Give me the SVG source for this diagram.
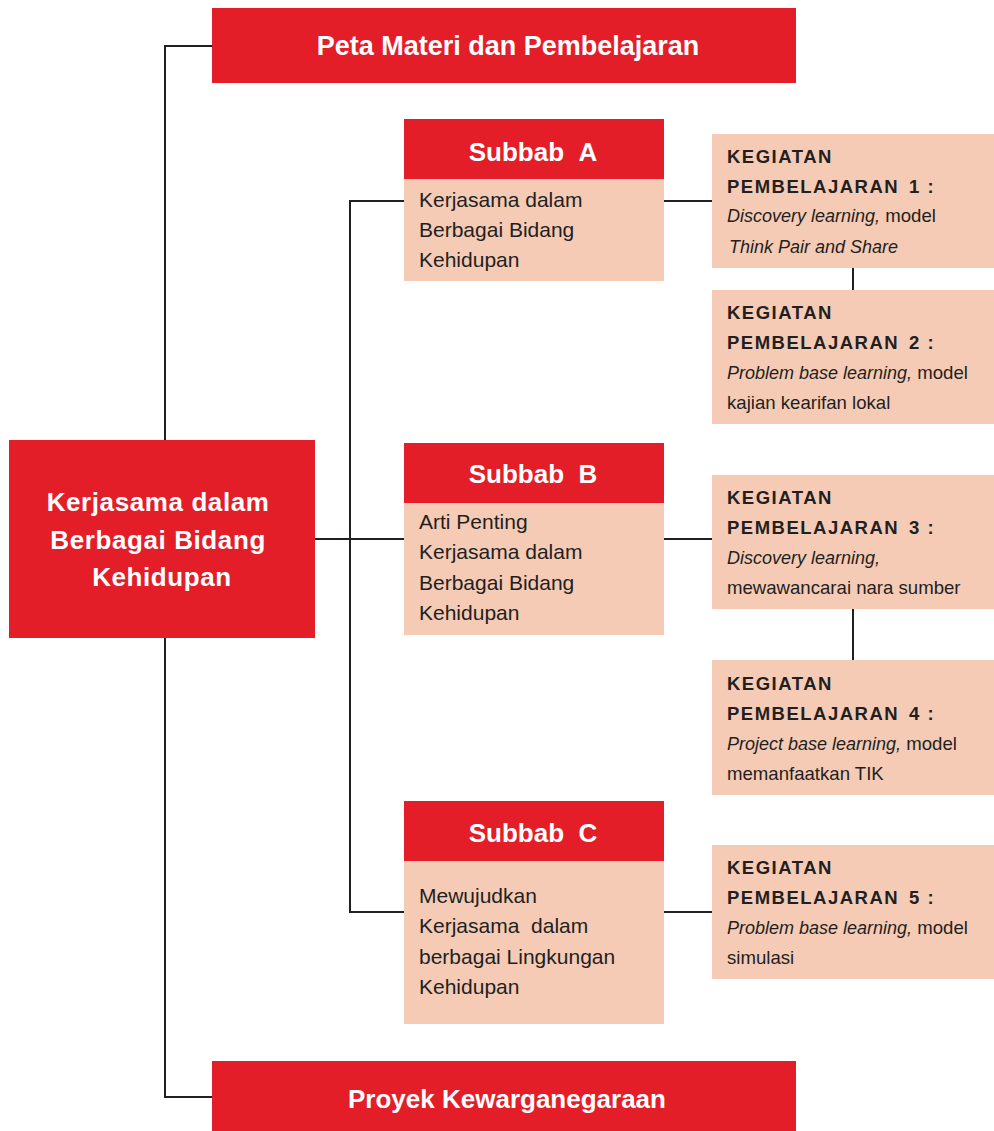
<svg xmlns="http://www.w3.org/2000/svg" width="994" height="1131" viewBox="0 0 994 1131">
<style>
.red{fill:#E31E28}
.peach{fill:#F5CBB6}
.wt{fill:#FFFFFF;font-family:"Liberation Sans",Arial,sans-serif;font-weight:bold;text-anchor:middle}
.bt{fill:#231F20;font-family:"Liberation Sans",Arial,sans-serif;font-size:21px}
.kp{fill:#231F20;font-family:"Liberation Sans",Arial,sans-serif;font-size:18px}
.kb{font-weight:bold;font-size:18.5px;letter-spacing:1.5px}
.it{font-style:italic}
.rg{font-size:18.6px}
.ln{stroke:#231F20;stroke-width:2;fill:none}
</style>
<rect width="994" height="1131" fill="#FFFFFF"/>
<g id="connectors">
<polyline class="ln" points="212,46 165,46 165,440"/>
<polyline class="ln" points="165,638 165,1097 212,1097"/>
<line class="ln" x1="315" y1="539" x2="404" y2="539"/>
<line class="ln" x1="350" y1="201" x2="350" y2="912"/>
<line class="ln" x1="349" y1="201" x2="404" y2="201"/>
<line class="ln" x1="349" y1="912" x2="404" y2="912"/>
<line class="ln" x1="664" y1="201" x2="712" y2="201"/>
<line class="ln" x1="664" y1="539" x2="712" y2="539"/>
<line class="ln" x1="664" y1="912" x2="712" y2="912"/>
<line class="ln" x1="853" y1="268" x2="853" y2="290"/>
<line class="ln" x1="853" y1="609" x2="853" y2="660"/>
</g>
<g id="peta">
<rect class="red" x="212" y="8" width="584" height="75"/>
<text class="wt" x="508" y="55" font-size="27">Peta Materi dan Pembelajaran</text>
</g>
<g id="main">
<rect class="red" x="9" y="440" width="306" height="198"/>
<text class="wt" font-size="26" letter-spacing="0.6">
<tspan x="162" y="511">Kerjasama dalam</tspan>
<tspan x="162" y="549">Berbagai Bidang</tspan>
<tspan x="162" y="586">Kehidupan</tspan>
</text>
</g>
<g id="subbabA">
<rect class="red" x="404" y="119" width="260" height="60"/>
<rect class="peach" x="404" y="179" width="260" height="102"/>
<text class="wt" x="533" y="161" font-size="26">Subbab&#160;&#160;A</text>
<text class="bt">
<tspan x="419" y="207">Kerjasama dalam</tspan>
<tspan x="419" y="237">Berbagai Bidang</tspan>
<tspan x="419" y="267">Kehidupan</tspan>
</text>
</g>
<g id="subbabB">
<rect class="red" x="404" y="443" width="260" height="60"/>
<rect class="peach" x="404" y="503" width="260" height="132"/>
<text class="wt" x="533" y="483" font-size="26">Subbab&#160;&#160;B</text>
<text class="bt">
<tspan x="419" y="529">Arti Penting</tspan>
<tspan x="419" y="559">Kerjasama dalam</tspan>
<tspan x="419" y="590">Berbagai Bidang</tspan>
<tspan x="419" y="620">Kehidupan</tspan>
</text>
</g>
<g id="subbabC">
<rect class="red" x="404" y="801" width="260" height="60"/>
<rect class="peach" x="404" y="861" width="260" height="163"/>
<text class="wt" x="533" y="842" font-size="26">Subbab&#160;&#160;C</text>
<text class="bt">
<tspan x="419" y="903">Mewujudkan</tspan>
<tspan x="419" y="933">Kerjasama&#160; dalam</tspan>
<tspan x="419" y="964">berbagai Lingkungan</tspan>
<tspan x="419" y="994">Kehidupan</tspan>
</text>
</g>
<g id="kp1">
<rect class="peach" x="712" y="134" width="282" height="134"/>
<text class="kp">
<tspan class="kb" x="727" y="163">KEGIATAN</tspan>
<tspan class="kb" x="727" y="193">PEMBELAJARAN</tspan><tspan class="kb" x="909" y="193">1 :</tspan>
<tspan class="it" x="727" y="222">Discovery learning,</tspan><tspan class="rg"> model</tspan>
<tspan class="it" x="729" y="253">Think Pair and Share</tspan>
</text>
</g>
<g id="kp2">
<rect class="peach" x="712" y="290" width="282" height="134"/>
<text class="kp">
<tspan class="kb" x="727" y="319">KEGIATAN</tspan>
<tspan class="kb" x="727" y="349">PEMBELAJARAN</tspan><tspan class="kb" x="909" y="349">2 :</tspan>
<tspan class="it" x="727" y="379">Problem base learning,</tspan><tspan class="rg"> model</tspan>
<tspan class="rg" x="727" y="409">kajian kearifan lokal</tspan>
</text>
</g>
<g id="kp3">
<rect class="peach" x="712" y="475" width="282" height="134"/>
<text class="kp">
<tspan class="kb" x="727" y="504">KEGIATAN</tspan>
<tspan class="kb" x="727" y="534">PEMBELAJARAN</tspan><tspan class="kb" x="909" y="534">3 :</tspan>
<tspan class="it" x="727" y="564">Discovery learning,</tspan>
<tspan class="rg" x="727" y="594">mewawancarai nara sumber</tspan>
</text>
</g>
<g id="kp4">
<rect class="peach" x="712" y="660" width="282" height="135"/>
<text class="kp">
<tspan class="kb" x="727" y="690">KEGIATAN</tspan>
<tspan class="kb" x="727" y="720">PEMBELAJARAN</tspan><tspan class="kb" x="909" y="720">4 :</tspan>
<tspan class="it" x="727" y="750">Project base learning,</tspan><tspan class="rg"> model</tspan>
<tspan class="rg" x="727" y="780">memanfaatkan TIK</tspan>
</text>
</g>
<g id="kp5">
<rect class="peach" x="712" y="845" width="282" height="134"/>
<text class="kp">
<tspan class="kb" x="727" y="874">KEGIATAN</tspan>
<tspan class="kb" x="727" y="904">PEMBELAJARAN</tspan><tspan class="kb" x="909" y="904">5 :</tspan>
<tspan class="it" x="727" y="934">Problem base learning,</tspan><tspan class="rg"> model</tspan>
<tspan class="rg" x="727" y="964">simulasi</tspan>
</text>
</g>
<g id="proyek">
<rect class="red" x="212" y="1061" width="584" height="70"/>
<text class="wt" x="507" y="1108" font-size="26">Proyek Kewarganegaraan</text>
</g>
</svg>
